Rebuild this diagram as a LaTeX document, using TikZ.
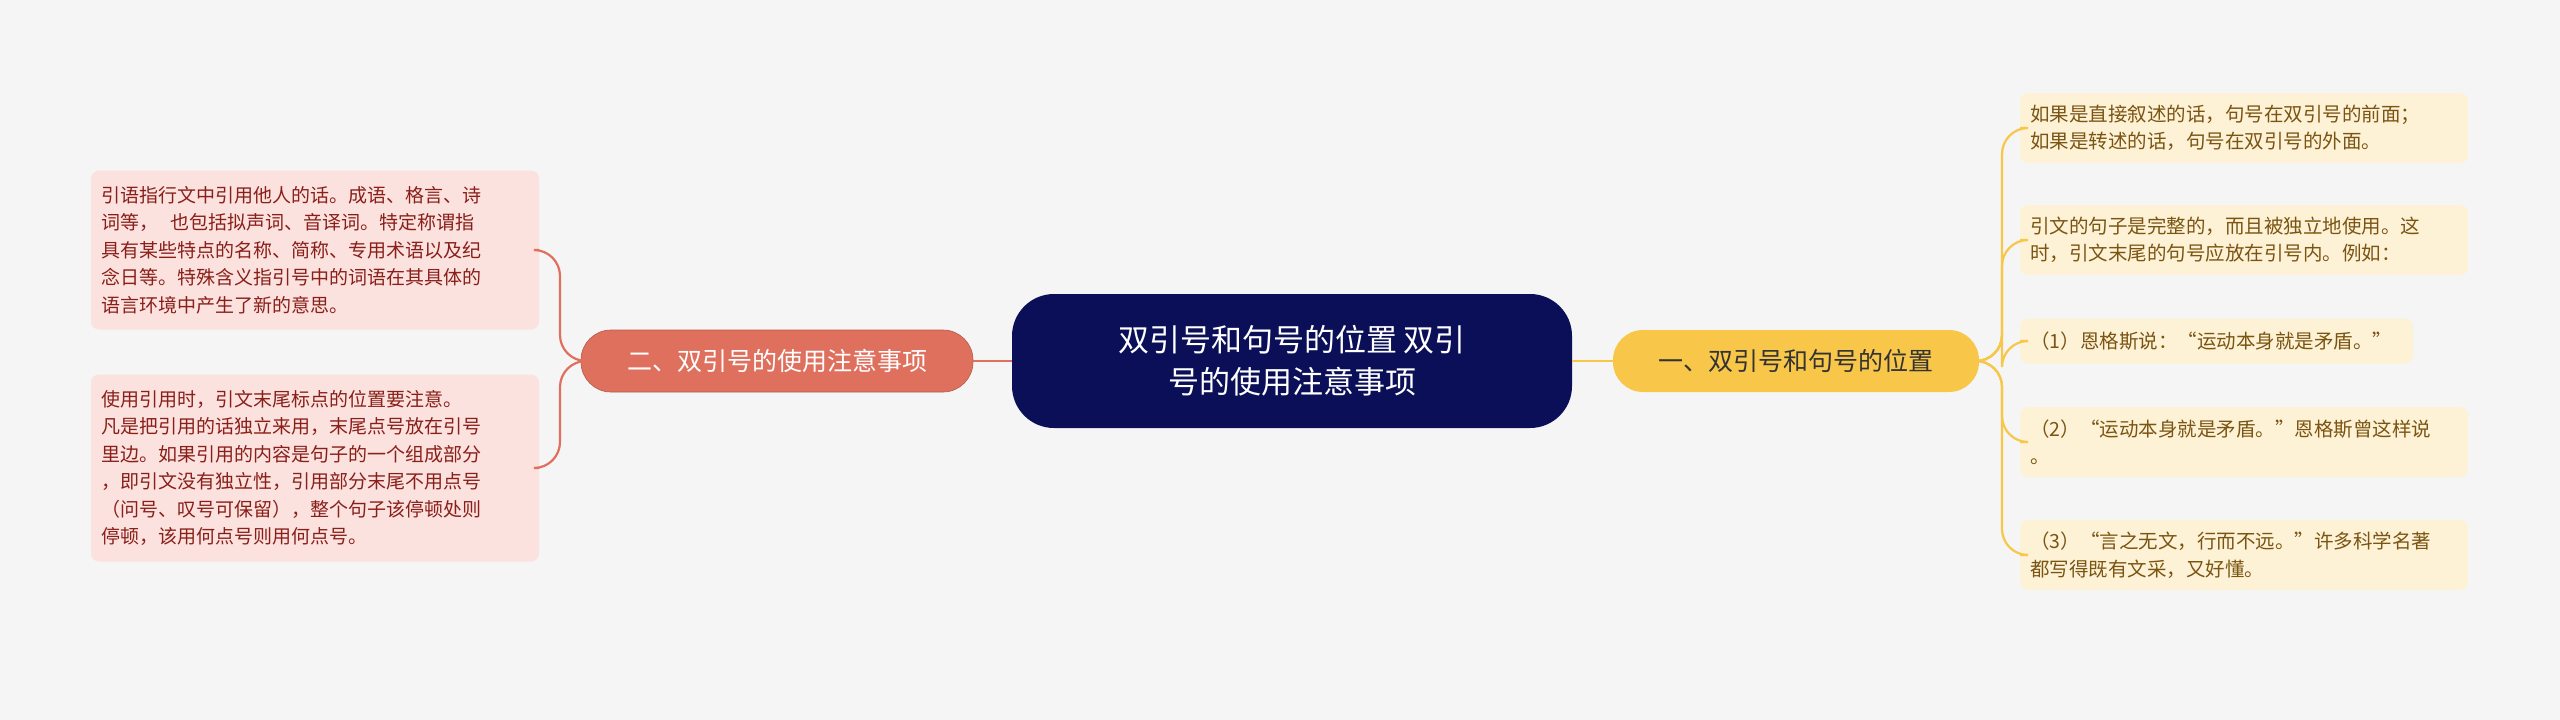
\documentclass[tikz,border=0pt]{standalone}
\usepackage{fontspec}
\setmainfont{Noto Sans CJK SC}
\begin{document}
\begin{tikzpicture}[x=1pt,y=-1pt,
  leafL/.style={rectangle,rounded corners=8,fill=leftfill,text=lefttext,font=\fontsize{19}{27.5}\selectfont,align=left,inner xsep=10,inner ysep=6,minimum width=448,text width=428},
  leafR/.style={rectangle,rounded corners=8,fill=rightfill,text=righttext,font=\fontsize{19.5}{27.5}\selectfont,align=left,inner xsep=10,inner ysep=6,text width=428},
  lline/.style={draw=leftmain,line width=2.2,rounded corners=26},
  rline/.style={draw=rightmain,line width=2.2,rounded corners=26}]
\definecolor{bg}{HTML}{F5F5F5}
\definecolor{navy}{HTML}{0B0F57}
\definecolor{leftmain}{HTML}{E0705E}
\definecolor{rightmain}{HTML}{F8C74A}
\definecolor{leftfill}{HTML}{FBE2DE}
\definecolor{lefttext}{HTML}{8A1F1A}
\definecolor{rightfill}{HTML}{FEF2D6}
\definecolor{righttext}{HTML}{7A5412}
\fill[bg] (0,0) rectangle (2560,720);
\useasboundingbox (0,0) rectangle (2560,720);
\node[rectangle,rounded corners=42,fill=navy,text=white,minimum width=560,minimum height=134,align=center,font=\fontsize{31}{42}\selectfont] (C) at (1292,361) {双引号和句号的位置 双引\\号的使用注意事项};
\node[rectangle,rounded corners=30,fill=rightmain,text=black!80,minimum width=366,minimum height=62,font=\fontsize{25}{30}\selectfont] (R) at (1796,361) {一、双引号和句号的位置};
\node[rectangle,rounded corners=30,fill=leftmain,draw=leftmain!80!black,line width=0.6,text=white,minimum width=392,minimum height=62,font=\fontsize{25}{30}\selectfont] (L) at (777,361) {二、双引号的使用注意事项};
\draw[lline] (C.west) -- (L.east);
\draw[rline] (C.east) -- (R.east -| R.west);
\node[leafL,minimum height=159] (a1) at (315,250) {引语指行文中引用他人的话。成语、格言、诗\\词等，\ \ 也包括拟声词、音译词。特定称谓指\\具有某些特点的名称、简称、专用术语以及纪\\念日等。特殊含义指引号中的词语在其具体的\\语言环境中产生了新的意思。};
\node[leafL,minimum height=187] (a2) at (315,468) {使用引用时，引文末尾标点的位置要注意。\\凡是把引用的话独立来用，末尾点号放在引号\\里边。如果引用的内容是句子的一个组成部分\\，即引文没有独立性，引用部分末尾不用点号\\（问号、叹号可保留），整个句子该停顿处则\\停顿，该用何点号则用何点号。};
\draw[lline] (L.west) -- (560,361) |- (a1.east);
\draw[lline] (L.west) -- (560,361) |- (a2.east);
\node[leafR,minimum height=70,anchor=west] (b1) at (2020,128) {如果是直接叙述的话，句号在双引号的前面；\\如果是转述的话，句号在双引号的外面。};
\node[leafR,minimum height=70,anchor=west] (b2) at (2020,240) {引文的句子是完整的，而且被独立地使用。这\\时，引文末尾的句号应放在引号内。例如：};
\node[leafR,minimum height=45,text width=373,anchor=west] (b3) at (2020,341) {（1）恩格斯说：“运动本身就是矛盾。”};
\node[leafR,minimum height=70,anchor=west] (b4) at (2020,442) {（2）“运动本身就是矛盾。”恩格斯曾这样说\\。};
\node[leafR,minimum height=70,anchor=west] (b5) at (2020,555) {（3）“言之无文，行而不远。”许多科学名著\\都写得既有文采，又好懂。};
\foreach \b in {b1,b2,b3,b4,b5}{\draw[rline] (R.east) -- (2002,361) |- (\b.west);}
\end{tikzpicture}
\end{document}
